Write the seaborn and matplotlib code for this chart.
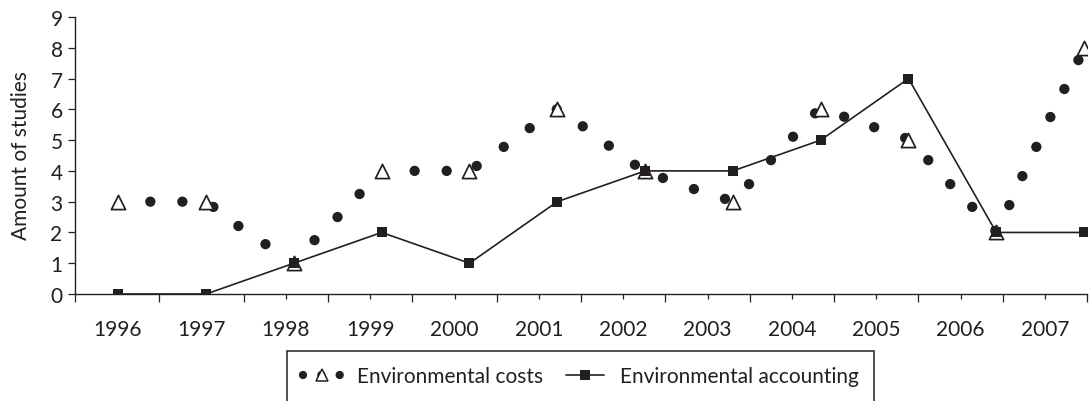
import numpy as np
import pandas as pd
import matplotlib
matplotlib.use("Agg")
import matplotlib.pyplot as plt
import seaborn as sns
from matplotlib.lines import Line2D
from matplotlib.patches import Rectangle

# ---------------- data ----------------
years = ["1996", "1997", "1998", "1999", "2000", "2001",
         "2002", "2003", "2004", "2005", "2006", "2007"]
env_costs = [3, 3, 1, 4, 4, 6, 4, 3, 6, 5, 2, 8]
env_accounting = [0, 0, 1, 2, 1, 3, 4, 4, 5, 7, 2, 2]

# dotted smoothed trace of "Environmental costs" as drawn (x in year-index units)
cost_trace_x = [0.365, 0.73, 1.083, 1.368, 1.676, 2.235, 2.497, 2.748,
                3.375, 3.74, 4.082, 4.39, 4.686, 4.994, 5.29, 5.587, 5.884,
                6.203, 6.556, 6.91, 7.184, 7.434, 7.685, 7.936, 8.267, 8.609,
                8.962, 9.225, 9.475, 9.726, 9.989, 10.148, 10.297, 10.456,
                10.616, 10.775, 10.935]
cost_trace_y = [3.0, 3.0, 2.83, 2.21, 1.62, 1.75, 2.5, 3.25,
                4.0, 4.0, 4.16, 4.78, 5.39, 6.0, 5.45, 4.82, 4.2,
                3.77, 3.41, 3.09, 3.57, 4.35, 5.11, 5.87, 5.76, 5.42,
                5.07, 4.35, 3.57, 2.83, 2.05, 2.89, 3.83, 4.78,
                5.75, 6.66, 7.6]

y_ticks = list(range(0, 10))
legend_labels = ["Environmental costs", "Environmental accounting"]
y_label = "Amount of studies"

# ---------------- style ----------------
sns.set_theme(style="ticks")
plt.rcParams['font.family'] = ['Lato', 'DejaVu Sans']
INK = "#231f20"
FS = 15

W, H = 1092, 402
fig = plt.figure(figsize=(W / 100, H / 100), dpi=100)
fig.patch.set_facecolor("white")
ax = fig.add_axes([75 / W, 1 - 295 / H, (1087 - 75) / W, (295 - 18) / H])
ax.set_facecolor("white")

idx = np.arange(len(years))
df = pd.DataFrame({"pos": idx, "year": years,
                   "costs": env_costs, "accounting": env_accounting})
trace = pd.DataFrame({"x": cost_trace_x, "y": cost_trace_y})

# accounting line with squares
sns.lineplot(data=df, x="pos", y="accounting", ax=ax, color=INK, linewidth=1.2,
             marker="s", markersize=7.4, markeredgewidth=0, markerfacecolor=INK,
             zorder=5)
# dotted smoothed trace
sns.scatterplot(data=trace, x="x", y="y", ax=ax, color=INK, s=7.4 ** 2,
                edgecolor="none", linewidth=0, zorder=3)
# open triangles at the yearly values
sns.scatterplot(data=df, x="pos", y="costs", ax=ax, marker="^", s=10.2 ** 2,
                color="white", edgecolor=INK, linewidth=1.25, zorder=4)

# ---------------- axes ----------------
x0, x1 = -0.493, 11.033
ax.set_xlim(x0, x1)
ax.set_ylim(0, 9)
edges = np.linspace(x0, x1, len(years) + 1)
mids = (edges[:-1] + edges[1:]) / 2

ax.set_xticks(mids)
ax.set_xticklabels(years, fontsize=FS, color=INK)
ax.set_xticks(edges, minor=True)
ax.tick_params(axis="x", which="major", length=3.6, width=0.9, color=INK,
               direction="out", pad=14.5)
ax.tick_params(axis="x", which="minor", length=5.8, width=0.9, color=INK,
               direction="out")
for t in ax.xaxis.get_major_ticks()[:2]:
    t.tick1line.set_visible(False)

ax.set_yticks(y_ticks)
ax.set_yticklabels([str(v) for v in y_ticks], fontsize=FS, color=INK)
ax.tick_params(axis="y", which="major", length=5, width=0.9, color=INK,
               direction="out", pad=4)

ax.set_xlabel("")
ax.set_ylabel("")
for side in ["top", "right"]:
    ax.spines[side].set_visible(False)
for side in ["left", "bottom"]:
    ax.spines[side].set_color(INK)
    ax.spines[side].set_linewidth(1.0)
ax.grid(False)

fig.text(21 / W, 1 - 156 / H, y_label, rotation=90, ha="center", va="center",
         fontsize=FS, color=INK)

# ---------------- legend ----------------
h_costs = Line2D([], [], color=INK, linewidth=6.0, linestyle=(0, (0.001, 2.2)),
                 dash_capstyle="round", marker="^", markersize=8.5,
                 markerfacecolor="white", markeredgecolor=INK,
                 markeredgewidth=1.1)
h_acc = Line2D([], [], color=INK, linewidth=1.2, marker="s", markersize=6.5,
               markerfacecolor=INK, markeredgewidth=0)
fig.legend([h_costs, h_acc], legend_labels, loc="center",
           bbox_to_anchor=(581 / W, 1 - 377 / H), ncol=2, frameon=False,
           fontsize=FS, handlelength=1.8, handletextpad=0.8,
           columnspacing=1.1, labelcolor=INK)
fig.add_artist(Rectangle((287 / W, -0.1), (874 - 287) / W, (1 - 352 / H) + 0.1,
                         transform=fig.transFigure, fill=False,
                         edgecolor=INK, linewidth=1.1, clip_on=False))

fig.savefig("out.png", dpi=100, facecolor="white")
